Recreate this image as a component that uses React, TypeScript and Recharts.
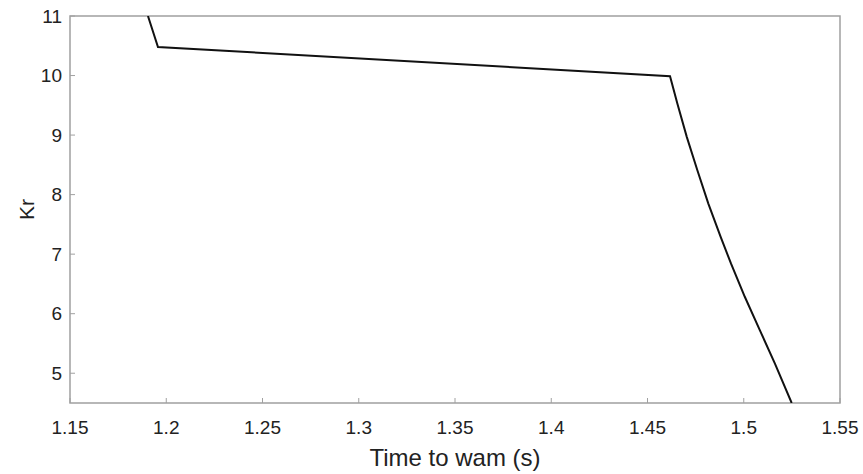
import { LineChart, Line, XAxis, YAxis, ReferenceArea } from 'recharts';

// time to warn (s)
const timeValues = [1.1905, 1.1957, 1.4617, 1.4655, 1.4704, 1.4759, 1.4816, 1.488, 1.4934, 1.5006, 1.5084, 1.5162, 1.5249];
// Kr
const krValues = [11.0, 10.48, 9.99, 9.53, 8.97, 8.41, 7.85, 7.29, 6.84, 6.28, 5.72, 5.16, 4.5];

const xTicks = [1.15, 1.2, 1.25, 1.3, 1.35, 1.4, 1.45, 1.5, 1.55];
const yTicks = [5, 6, 7, 8, 9, 10, 11];

const data = timeValues.map((t, i) => ({ t, kr: krValues[i] }));

const font = '"Liberation Sans", Arial, sans-serif';
const axisGray = '#a0a0a0';
const textColor = '#222';
const TICK = 5;
const XM = 18;
const YM = 8;

// inward tick marks, labels outside
function BottomTick({ x, y, payload }: any) {
  const edge = y - XM;
  return (
    <g>
      <line x1={x} x2={x} y1={edge} y2={edge - TICK} stroke={axisGray} />
      <text x={x} y={y} dy="0.71em" textAnchor="middle" fill={textColor} fontSize={19} fontFamily={font}>
        {payload.value}
      </text>
    </g>
  );
}

function LeftTick({ x, y, payload }: any) {
  const edge = x + YM;
  return (
    <g>
      <line x1={edge} x2={edge + TICK} y1={y} y2={y} stroke={axisGray} />
      <text x={x} y={y} dy="0.355em" textAnchor="end" fill={textColor} fontSize={19} fontFamily={font}>
        {payload.value}
      </text>
    </g>
  );
}

function TopTick({ x, y }: any) {
  return <line x1={x} x2={x} y1={y} y2={y + TICK} stroke={axisGray} />;
}

function RightTick({ x, y }: any) {
  return <line x1={x - TICK} x2={x} y1={y} y2={y} stroke={axisGray} />;
}

export default function App() {
  return (
    <div style={{ position: 'absolute', left: 0, top: 0, width: 863, height: 474, background: '#fff' }}>
      <LineChart width={863} height={474} data={data}
        margin={{ top: 16, right: 23, left: 0, bottom: 0 }}>
        <XAxis xAxisId="b" dataKey="t" type="number" domain={[1.15, 1.55]} ticks={xTicks}
          allowDataOverflow height={71} axisLine={false} tickLine={false} tickSize={0} tickMargin={XM}
          tick={<BottomTick />} interval={0}
          label={{ value: 'Time to wam (s)', position: 'insideBottom', offset: 8,
            style: { fill: textColor, fontSize: 24, fontFamily: font } }} />
        <XAxis xAxisId="t" dataKey="t" type="number" domain={[1.15, 1.55]} ticks={xTicks}
          allowDataOverflow orientation="top" height={0} axisLine={false} tickLine={false}
          tickSize={0} tickMargin={0} tick={<TopTick />} interval={0} />
        <YAxis yAxisId="l" type="number" domain={[4.5, 11]} ticks={yTicks} allowDataOverflow
          width={70} axisLine={false} tickLine={false} tickSize={0} tickMargin={YM} tick={<LeftTick />}
          interval={0}
          label={{ value: 'Kr', angle: -90, position: 'insideLeft', offset: 27,
            style: { fill: textColor, fontSize: 21, fontFamily: font, textAnchor: 'middle' } }} />
        <YAxis yAxisId="r" type="number" domain={[4.5, 11]} ticks={yTicks} allowDataOverflow
          orientation="right" width={0} axisLine={false} tickLine={false} tickSize={0} tickMargin={0}
          tick={<RightTick />} interval={0} />
        <ReferenceArea xAxisId="b" yAxisId="l" x1={1.15} x2={1.55} y1={4.5} y2={11}
          fill="none" stroke={axisGray} strokeWidth={1.5} ifOverflow="visible" />
        <Line xAxisId="b" yAxisId="l" type="linear" dataKey="kr" stroke="#111" strokeWidth={2}
          dot={false} isAnimationActive={false} />
      </LineChart>
    </div>
  );
}
